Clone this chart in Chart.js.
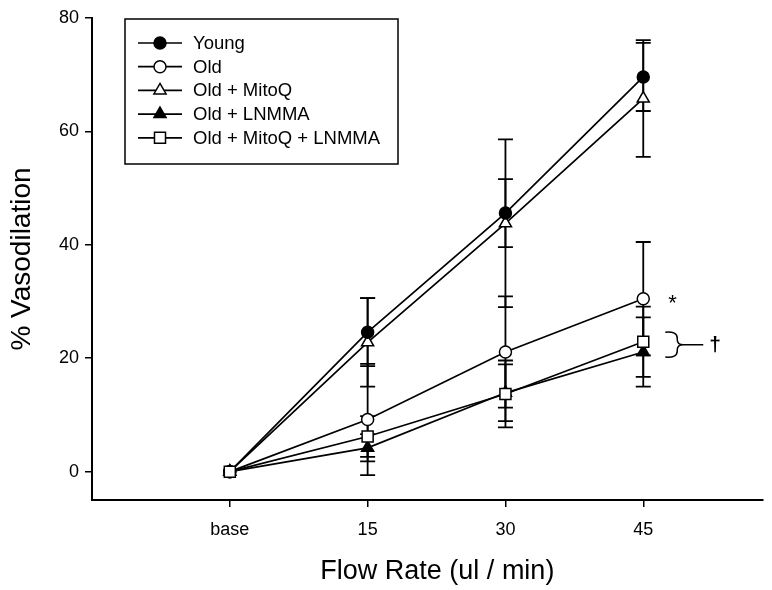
<!DOCTYPE html>
<html>
<head>
<meta charset="utf-8">
<script src="https://cdn.jsdelivr.net/npm/chart.js@4/dist/chart.umd.min.js"></script>
<style>
  html, body { margin: 0; padding: 0; background: #fff; }
  #wrap { width: 772px; height: 590px; }
</style>
</head>
<body>
<div id="wrap"><canvas id="vasoChart" width="772" height="590"></canvas></div>
<script>
// x positions (ul/min) and their tick labels
const flowRates = [0, 15, 30, 45];
const flowLabels = ['base', '15', '30', '45'];
const yTickValues = [0, 20, 40, 60, 80];

// % vasodilation, mean and error
const young = [0, 24.6, 45.6, 69.6];
const youngErr = [0, 6.0, 6.0, 6.0];
const old = [0, 9.2, 21.1, 30.5];
const oldErr = [0, 9.8, 9.8, 10.0];
const oldMitoQ = [0, 22.8, 43.8, 65.8];
const oldMitoQErr = [0, 7.8, 14.8, 10.3];
const oldLnmma = [0, 4.2, 13.9, 21.1];
const oldLnmmaErr = [0, 2.4, 5.0, 6.1];
const oldMitoQLnmma = [0, 6.2, 13.7, 22.9];
const oldMitoQLnmmaErr = [0, 3.6, 5.9, 6.2];

const FONT = "'Liberation Sans', Arial, sans-serif";

const toPoints = (vals) => vals.map((v, i) => ({ x: flowRates[i], y: v }));

const makeSet = (label, vals, errs, style, fill, order) => ({
    label: label,
    data: toPoints(vals),
    errors: errs,
    borderColor: '#000',
    borderWidth: 1.7,
    pointStyle: style,
    pointRadius: style === 'rect' ? 7.8 : (style === 'triangle' ? 7 : 6),
    pointHoverRadius: style === 'rect' ? 7.8 : (style === 'triangle' ? 7 : 6),
    pointBackgroundColor: fill,
    pointBorderColor: '#000',
    pointBorderWidth: 1.5,
    tension: 0,
    fill: false,
    order: order
});

const datasets = [
    makeSet('Young', young, youngErr, 'circle', '#000', 1),
    makeSet('Old', old, oldErr, 'circle', '#fff', 2),
    makeSet('Old + MitoQ', oldMitoQ, oldMitoQErr, 'triangle', '#fff', 3),
    makeSet('Old + LNMMA', oldLnmma, oldLnmmaErr, 'triangle', '#000', 4),
    makeSet('Old + MitoQ + LNMMA', oldMitoQLnmma, oldMitoQLnmmaErr, 'rect', '#fff', 0)
];

function drawMarker(ctx, style, fill, x, y, r) {
    ctx.save();
    ctx.fillStyle = fill;
    ctx.strokeStyle = '#000';
    ctx.lineWidth = 1.5;
    ctx.beginPath();
    if (style === 'circle') {
        ctx.arc(x, y, r, 0, Math.PI * 2);
    } else if (style === 'triangle') {
        ctx.moveTo(x, y - r);
        ctx.lineTo(x + r * Math.sin(Math.PI / 3), y + r * 0.5);
        ctx.lineTo(x - r * Math.sin(Math.PI / 3), y + r * 0.5);
        ctx.closePath();
    } else {
        const s = r * Math.SQRT1_2;
        ctx.rect(x - s, y - s, 2 * s, 2 * s);
    }
    ctx.fill();
    ctx.stroke();
    ctx.restore();
}

// error bars under the markers
const errorBars = {
    id: 'errorBars',
    beforeDatasetsDraw(chart) {
        const ctx = chart.ctx;
        const xs = chart.scales.x, ys = chart.scales.y;
        ctx.save();
        ctx.strokeStyle = '#000';
        ctx.lineWidth = 1.8;
        chart.data.datasets.forEach(ds => {
            ds.data.forEach((p, i) => {
                const e = ds.errors[i];
                if (!e) return;
                const px = xs.getPixelForValue(p.x);
                const top = ys.getPixelForValue(p.y + e);
                const bot = ys.getPixelForValue(p.y - e);
                ctx.beginPath();
                ctx.moveTo(px, top); ctx.lineTo(px, bot);
                ctx.moveTo(px - 7.5, top); ctx.lineTo(px + 7.5, top);
                ctx.moveTo(px - 7.5, bot); ctx.lineTo(px + 7.5, bot);
                ctx.stroke();
            });
        });
        ctx.restore();
    }
};

// boxed legend with line + marker samples, x title, significance marks
const legendAndMarks = {
    id: 'legendAndMarks',
    afterDraw(chart) {
        const ctx = chart.ctx;
        const area = chart.chartArea;
        const xs = chart.scales.x, ys = chart.scales.y;
        ctx.save();
        const bx = area.left + 33, by = area.top + 1;
        ctx.strokeStyle = '#000';
        ctx.lineWidth = 1.5;
        ctx.strokeRect(bx, by, 273, 145);
        ctx.font = '18.5px ' + FONT;
        ctx.fillStyle = '#000';
        ctx.textBaseline = 'middle';
        chart.data.datasets.forEach((ds, i) => {
            const ry = by + 24 + i * 23.7;
            ctx.beginPath();
            ctx.moveTo(bx + 13, ry); ctx.lineTo(bx + 57, ry);
            ctx.lineWidth = 1.7;
            ctx.stroke();
            drawMarker(ctx, ds.pointStyle, ds.pointBackgroundColor, bx + 35, ry, ds.pointRadius);
            ctx.fillStyle = '#000';
            ctx.fillText(ds.label, bx + 68, ry + 1);
        });

        // x axis title, centred a little right of the plot centre as in the original
        ctx.font = '27px ' + FONT;
        ctx.textAlign = 'center';
        ctx.fillText('Flow Rate (ul / min)', (area.left + area.right) / 2 + 10, area.bottom + 72);

        // "*" next to Old at 45, bracket + dagger for the LNMMA groups
        const x45 = xs.getPixelForValue(45);
        ctx.font = '22px ' + FONT;
        ctx.textAlign = 'left';
        ctx.fillText('*', x45 + 25, ys.getPixelForValue(old[3]) + 5);

        const yTop = ys.getPixelForValue(24.6);
        const yBot = ys.getPixelForValue(20.2);
        const yMid = (yTop + yBot) / 2;
        const bL = x45 + 22, bR = x45 + 40;
        ctx.lineWidth = 1.5;
        ctx.beginPath();
        ctx.moveTo(bL, yTop);
        ctx.quadraticCurveTo(bL + 12, yTop - 1, bL + 12, yTop + 6);
        ctx.lineTo(bL + 12, yMid - 5);
        ctx.quadraticCurveTo(bL + 12, yMid, bR, yMid);
        ctx.quadraticCurveTo(bL + 12, yMid, bL + 12, yMid + 5);
        ctx.lineTo(bL + 12, yBot - 6);
        ctx.quadraticCurveTo(bL + 12, yBot + 1, bL, yBot);
        ctx.moveTo(bR, yMid);
        ctx.lineTo(x45 + 60, yMid);
        ctx.stroke();
        ctx.font = 'bold 21px ' + FONT;
        ctx.fillText('\u2020', x45 + 66, yMid + 1);
        ctx.restore();
    }
};

const canvasContext = document.getElementById('vasoChart').getContext('2d');
const vasoChart = new Chart(canvasContext, {
    type: 'line',
    data: { datasets: datasets },
    options: {
        responsive: false,
        animation: false,
        events: [],
        layout: { padding: { top: 18, right: 4, left: 0, bottom: 0 } },
        plugins: {
            legend: { display: false },
            tooltip: { enabled: false }
        },
        scales: {
            x: {
                type: 'linear',
                min: -15,
                max: 58,
                afterBuildTicks: (scale) => { scale.ticks = flowRates.map(v => ({ value: v })); },
                afterFit: (scale) => { scale.height = 90; },
                ticks: {
                    callback: (v) => flowLabels[flowRates.indexOf(v)],
                    color: '#000',
                    padding: 12,
                    maxRotation: 0,
                    font: { family: FONT, size: 18 }
                },
                grid: { drawOnChartArea: false, drawTicks: true, tickLength: 7, color: '#000', lineWidth: 1.5 },
                border: { color: '#000', width: 2 }
            },
            y: {
                min: -5,
                max: 80,
                afterBuildTicks: (scale) => { scale.ticks = yTickValues.map(v => ({ value: v })); },
                afterFit: (scale) => { scale.width = 92; },
                ticks: {
                    color: '#000',
                    padding: 6,
                    font: { family: FONT, size: 18 }
                },
                grid: { drawOnChartArea: false, drawTicks: true, tickLength: 7, color: '#000', lineWidth: 1.5 },
                border: { color: '#000', width: 2 },
                title: {
                    display: true,
                    text: '% Vasodilation',
                    color: '#000',
                    padding: { top: 5, bottom: 0 },
                    font: { family: FONT, size: 28 }
                }
            }
        }
    },
    plugins: [errorBars, legendAndMarks]
});
</script>
</body>
</html>
